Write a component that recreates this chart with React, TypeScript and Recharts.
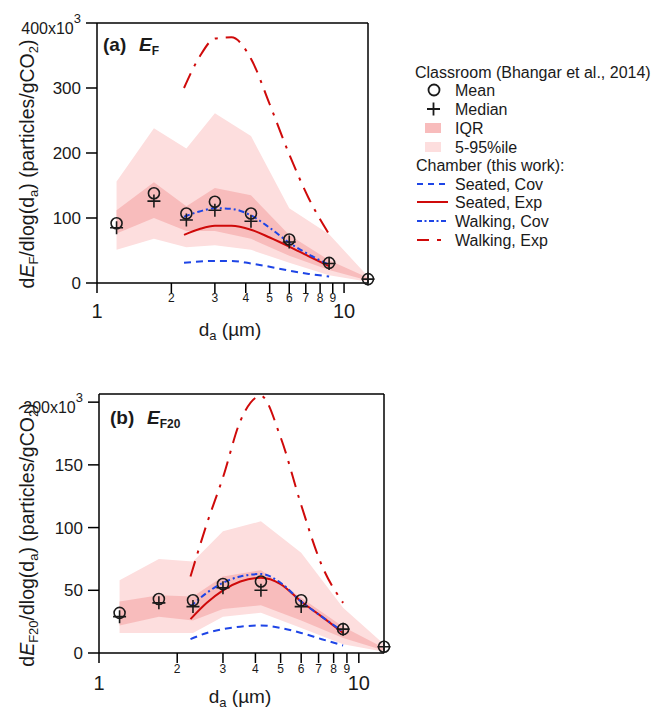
import React from "react";
import { ComposedChart, Area, Line, Scatter, XAxis, YAxis } from "recharts";

// particle diameters (um) of the classroom size bins
const sizes = [1.2, 1.7, 2.3, 3.0, 4.2, 6.0, 8.7, 12.5];
// diameters at which the chamber fits are drawn
const fitSizes = [2.25, 2.6, 3.0, 3.5, 4.2, 5.0, 6.0, 7.2, 8.7];

// panel (a): E_F, x10^3
const meanA = [92, 138, 107, 125, 107, 67, 31, 6];
const medianA = [85, 126, 97, 112, 95, 63, 30, 6];
const p5A = [51, 68, 55, 58, 51, 31, 12, 2];
const p25A = [76, 100, 80, 80, 68, 42, 20, 4];
const p75A = [112, 155, 118, 146, 135, 74, 35, 8];
const p95A = [156, 238, 207, 261, 226, 115, 75, 10];
const seatedCovA = [31, 33, 34, 34, 30, 25, 19, 14, 10];
const seatedExpA = [74, 83, 88, 88, 82, 70, 56, 41, 26];
const walkingCovA = [102, 110, 115, 114, 104, 85, 62, 44, 28];
const walkingExpA = [300, 348, 376, 378, 345, 275, 198, 130, 75];

// panel (b): E_F20, x10^3
const meanB = [32, 43, 42, 55, 57, 42, 19, 5];
const medianB = [29, 40, 37, 52, 50, 37, 19, 5];
const p5B = [16, 16, 16, 29, 32, 20, 7, 1];
const p25B = [22, 29, 26, 35, 38, 26, 12, 2];
const p75B = [41, 46, 45, 61, 66, 44, 21, 4];
const p95B = [58, 75, 73, 97, 105, 80, 36, 7];
const seatedCovB = [11, 16, 19, 21, 22, 20, 16, 11, 6];
const seatedExpB = [27, 40, 50, 57, 60, 55, 41, 29, 16];
const walkingCovB = [37, 48, 56, 61, 63, 56, 41, 29, 17];
const walkingExpB = [61, 103, 140, 185, 205, 172, 118, 70, 40];

const xTicks = [1, 2, 3, 4, 5, 6, 7, 8, 9, 10];
const yTicksA = [0, 100, 200, 300, 400];
const yTicksB = [0, 50, 100, 150, 200];

const RED = "#cf0a0a";
const BLUE = "#1e45e6";
const LIGHT = "#fddede";
const IQR = "#f8bcbc";
const INK = "#1a1a1a";
const FONT = "'Liberation Sans', Arial, Helvetica, sans-serif";

const toBands = (p5: number[], p25: number[], p75: number[], p95: number[]) =>
  sizes.map((x, i) => ({ x, outer: [p5[i], p95[i]], iqr: [p25[i], p75[i]] }));
const toPts = (xs: number[], ys: number[]) => xs.map((x, i) => ({ x, y: ys[i] }));

const axisStyle = { stroke: "#000", strokeWidth: 1.5 };

const renderMean = (p: any) => (
  <circle cx={p.cx} cy={p.cy} r={5.5} fill="none" stroke={INK} strokeWidth={1.6} />
);
const renderMedian = (p: any) => (
  <path
    d={`M${p.cx - 6.5},${p.cy}H${p.cx + 6.5}M${p.cx},${p.cy - 6.5}V${p.cy + 6.5}`}
    stroke={INK}
    strokeWidth={1.6}
    fill="none"
  />
);

const xTick = (majorDy: number, minorDy: number) => (p: any) => {
  const v = p.payload.value;
  const major = v === 1 || v === 10;
  return (
    <text x={p.x} y={p.y} dy={major ? majorDy : minorDy} textAnchor="middle" fontSize={major ? 20 : 12} fill={INK} fontFamily={FONT}>
      {v}
    </text>
  );
};

const yTick = (topVal: number) => (p: any) => {
  const v = p.payload.value;
  if (v === topVal) {
    return (
      <text x={p.x} y={p.y} dy={11} textAnchor="end" fontSize={16} fill={INK} fontFamily={FONT}>
        {v}x10<tspan dy={-11} fontSize={13}>3</tspan>
      </text>
    );
  }
  return (
    <text x={p.x} y={p.y} dy={6} textAnchor="end" fontSize={17} fill={INK} fontFamily={FONT}>
      {v}
    </text>
  );
};

interface PanelProps {
  top: number;
  height: number;
  margin: { top: number; right: number; left: number; bottom: number };
  yW: number;
  rW: number;
  yMax: number;
  yTicks: number[];
  rTicks: number[];
  majorDy: number;
  minorDy: number;
  bands: any[];
  mean: number[];
  median: number[];
  seatedCov: number[];
  seatedExp: number[];
  walkingCov: number[];
  walkingExp: number[];
}

function Panel(props: PanelProps) {
  return (
    <div style={{ position: "absolute", left: 0, top: props.top }}>
      <ComposedChart width={400} height={props.height} data={props.bands} margin={props.margin}>
        <XAxis
          dataKey="x"
          type="number"
          scale="log"
          domain={[1, 12.5]}
          ticks={xTicks}
          interval={0}
          height={40}
          tickSize={10}
          tickMargin={0}
          axisLine={axisStyle}
          tickLine={axisStyle}
          tick={xTick(props.majorDy, props.minorDy)}
        />
        <XAxis
          xAxisId="top"
          orientation="top"
          dataKey="x"
          type="number"
          scale="log"
          domain={[1, 12.5]}
          ticks={xTicks}
          interval={0}
          height={10}
          tickSize={9}
          axisLine={axisStyle}
          tickLine={axisStyle}
          tick={false}
        />
        <YAxis
          type="number"
          domain={[0, props.yMax]}
          ticks={props.yTicks}
          interval={0}
          width={props.yW}
          tickSize={11}
          tickMargin={5}
          axisLine={axisStyle}
          tickLine={axisStyle}
          tick={yTick(props.yTicks[props.yTicks.length - 1])}
        />
        <YAxis
          yAxisId="r"
          orientation="right"
          type="number"
          domain={[0, props.yMax]}
          ticks={props.rTicks}
          interval={0}
          width={props.rW}
          tickSize={12}
          axisLine={axisStyle}
          tickLine={axisStyle}
          tick={false}
        />
        <Area dataKey="outer" type="linear" fill={LIGHT} fillOpacity={1} stroke="none" dot={false} activeDot={false} isAnimationActive={false} />
        <Area dataKey="iqr" type="linear" fill={IQR} fillOpacity={1} stroke="none" dot={false} activeDot={false} isAnimationActive={false} />
        <Line data={toPts(fitSizes, props.seatedCov)} dataKey="y" type="monotone" stroke={BLUE} strokeWidth={2} strokeDasharray="7 5" dot={false} activeDot={false} isAnimationActive={false} />
        <Line data={toPts(fitSizes, props.seatedExp)} dataKey="y" type="monotone" stroke={RED} strokeWidth={2} dot={false} activeDot={false} isAnimationActive={false} />
        <Line data={toPts(fitSizes, props.walkingCov)} dataKey="y" type="monotone" stroke={BLUE} strokeWidth={2} strokeDasharray="6 3 2 3" dot={false} activeDot={false} isAnimationActive={false} />
        <Line data={toPts(fitSizes, props.walkingExp)} dataKey="y" type="monotone" stroke={RED} strokeWidth={2} strokeDasharray="16 8 3 8" dot={false} activeDot={false} isAnimationActive={false} />
        <Scatter data={toPts(sizes, props.mean)} dataKey="y" shape={renderMean} isAnimationActive={false} />
        <Scatter data={toPts(sizes, props.median)} dataKey="y" shape={renderMedian} isAnimationActive={false} />
      </ComposedChart>
    </div>
  );
}

const legendRows = [
  { label: "Mean", kind: "mean", y: 90 },
  { label: "Median", kind: "median", y: 109 },
  { label: "IQR", kind: "iqr", y: 128 },
  { label: "5-95%ile", kind: "outer", y: 147 },
  { label: "Seated, Cov", kind: "seatedCov", y: 184 },
  { label: "Seated, Exp", kind: "seatedExp", y: 202 },
  { label: "Walking, Cov", kind: "walkingCov", y: 221 },
  { label: "Walking, Exp", kind: "walkingExp", y: 240 },
];

function legendSymbol(kind: string, y: number) {
  switch (kind) {
    case "mean":
      return <circle cx={434} cy={y} r={5.5} fill="none" stroke={INK} strokeWidth={1.8} />;
    case "median":
      return <path d={`M427,${y}H440M433.5,${y - 6.5}V${y + 6.5}`} stroke={INK} strokeWidth={1.8} />;
    case "iqr":
      return <rect x={425} y={y - 5} width={16} height={10} fill={IQR} />;
    case "outer":
      return <rect x={425} y={y - 5} width={16} height={10} fill={LIGHT} />;
    case "seatedCov":
      return <line x1={417} x2={448} y1={y} y2={y} stroke={BLUE} strokeWidth={2} strokeDasharray="6 5" />;
    case "seatedExp":
      return <line x1={417} x2={448} y1={y} y2={y} stroke={RED} strokeWidth={2} />;
    case "walkingCov":
      return <line x1={417} x2={448} y1={y} y2={y} stroke={BLUE} strokeWidth={2} strokeDasharray="5 2.5 2 2.5" />;
    default:
      return <line x1={417} x2={448} y1={y} y2={y} stroke={RED} strokeWidth={2} strokeDasharray="12 8 4 20" />;
  }
}

function YTitle({ x, y, extra }: { x: number; y: number; extra: string }) {
  return (
    <text transform={`translate(${x},${y}) rotate(-90)`} textAnchor="middle" fontSize={19.5} fill={INK}>
      d<tspan fontStyle="italic">E</tspan>
      <tspan dy={4} fontSize={13}>{"F" + extra}</tspan>
      <tspan dy={-4}>/dlog(d</tspan>
      <tspan dy={4} fontSize={13}>a</tspan>
      <tspan dy={-4}>) (particles/gCO</tspan>
      <tspan dy={4} fontSize={13}>2</tspan>
      <tspan dy={-4}>)</tspan>
    </text>
  );
}

function XTitle({ x, y }: { x: number; y: number }) {
  return (
    <text x={x} y={y} textAnchor="middle" fontSize={19} fill={INK}>
      d<tspan dy={4} fontSize={13}>a</tspan>
      <tspan dy={-4}> (µm)</tspan>
    </text>
  );
}

export default function App() {
  return (
    <div style={{ position: "absolute", left: 0, top: 0, width: 661, height: 709, background: "#fff", fontFamily: FONT }}>
      <Panel
        top={0}
        height={345}
        margin={{ top: 13, right: 20, left: 0, bottom: 22 }}
        yW={97}
        rW={12}
        yMax={400}
        yTicks={yTicksA}
        rTicks={yTicksA}
        majorDy={25}
        minorDy={9}
        bands={toBands(p5A, p25A, p75A, p95A)}
        mean={meanA}
        median={medianA}
        seatedCov={seatedCovA}
        seatedExp={seatedExpA}
        walkingCov={walkingCovA}
        walkingExp={walkingExpA}
      />
      <Panel
        top={360}
        height={349}
        margin={{ top: 24, right: 3, left: 0, bottom: 16 }}
        yW={99}
        rW={13}
        yMax={206.5}
        yTicks={yTicksB}
        rTicks={[...yTicksB, 206.5]}
        majorDy={27}
        minorDy={10}
        bands={toBands(p5B, p25B, p75B, p95B)}
        mean={meanB}
        median={medianB}
        seatedCov={seatedCovB}
        seatedExp={seatedExpB}
        walkingCov={walkingCovB}
        walkingExp={walkingExpB}
      />
      <svg width={661} height={709} style={{ position: "absolute", left: 0, top: 0, pointerEvents: "none" }} fontFamily={FONT}>
        <text x={103} y={51} fontSize={19} fontWeight="bold" fill={INK}>(a)</text>
        <text x={139} y={51} fontSize={19} fontWeight="bold" fill={INK}>
          <tspan fontStyle="italic">E</tspan>
          <tspan dy={4} fontSize={12}>F</tspan>
        </text>
        <text x={110} y={424} fontSize={19} fontWeight="bold" fill={INK}>(b)</text>
        <text x={147} y={424} fontSize={19} fontWeight="bold" fill={INK}>
          <tspan fontStyle="italic">E</tspan>
          <tspan dy={4} fontSize={12}>F20</tspan>
        </text>
        <YTitle x={34} y={164} extra="" />
        <YTitle x={34} y={535} extra="20" />
        <XTitle x={230} y={336} />
        <XTitle x={240} y={703} />
        <text x={415} y={78} fontSize={16} fill={INK}>Classroom (Bhangar et al., 2014)</text>
        <text x={416} y={171} fontSize={16} fill={INK}>Chamber (this work):</text>
        {legendRows.map((r) => (
          <g key={r.label}>
            {legendSymbol(r.kind, r.y)}
            <text x={455} y={r.y + 6} fontSize={16} fill={INK}>{r.label}</text>
          </g>
        ))}
      </svg>
    </div>
  );
}
